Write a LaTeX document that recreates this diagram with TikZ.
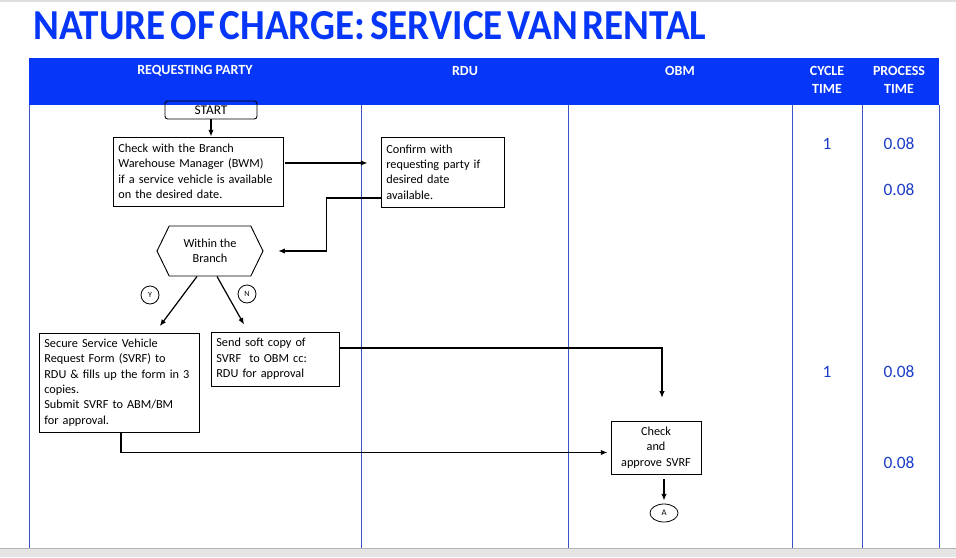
\documentclass[tikz,border=0pt]{standalone}
\usepackage{fontspec}
\setmainfont{Carlito}
\usetikzlibrary{shapes.geometric,shapes.symbols,arrows.meta}
\definecolor{hdrblue}{HTML}{0636F8}
\definecolor{numblue}{HTML}{1A3CC8}
\definecolor{laneline}{HTML}{3A55C8}
\tikzset{
  box/.style={draw, line width=0.7pt, align=left, inner xsep=4pt,
    font=\fontsize{9.2}{11.6}\selectfont},
  flow/.style={-{Latex[length=5pt,width=4pt]}, line width=0.9pt},
  hdr/.style={text=white, font=\fontsize{10.5}{13.5}\selectfont\bfseries, align=center},
  num/.style={text=numblue, font=\fontsize{13}{15}\selectfont},
  tag/.style={draw, circle, line width=0.6pt, inner sep=0pt, minimum size=13.5pt,
    font=\fontsize{6}{7}\selectfont}
}
\begin{document}
\begin{tikzpicture}[x=0.75pt, y=-0.75pt]
\useasboundingbox (0,0) rectangle (956,557);
\fill[gray!25] (0,0) rectangle (956,2);
\node[anchor=west, inner sep=0pt, text=hdrblue] (title) at (33,26)
{\resizebox{504.75pt}{21pt}{\bfseries\spaceskip=0.12em NATURE OF CHARGE: SERVICE VAN RENTAL}};
% lanes
\fill[hdrblue] (29,58) rectangle (939,105);
\draw[laneline, line width=0.6pt] (29,105) -- (29,548);
\draw[laneline, line width=0.6pt] (361,105) -- (361,548);
\draw[laneline, line width=0.6pt] (568,105) -- (568,548);
\draw[laneline, line width=0.6pt] (792,105) -- (792,548);
\draw[laneline, line width=0.6pt] (862,105) -- (862,548);
\draw[laneline, line width=0.6pt] (939,105) -- (939,548);
\node[hdr] (h1) at (195,71) {REQUESTING PARTY};
\node[hdr] (h2) at (465,71) {RDU};
\node[hdr] (h3) at (680,71) {OBM};
\node[hdr] (h4) at (827,80) {CYCLE\\TIME};
\node[hdr] (h5) at (899,80) {PROCESS\\TIME};
% steps
\node[box, rounded corners=2pt, align=center, minimum width=69pt, minimum height=13.5pt,
  inner ysep=0pt, font=\fontsize{10}{11}\selectfont] (start) at (211,110) {START};
\node[box, text width=119.5pt, minimum height=51.75pt] (check) at (198,171.5)
{Check with the Branch\\Warehouse Manager (BWM)\\if a service vehicle is available\\on the desired date.};
\node[box, text width=84.25pt, minimum height=52.5pt] (confirm) at (442.5,172)
{Confirm with\\requesting party if\\desired date\\available.};
\node[draw, line width=0.7pt, signal, signal to=west and east, signal pointer angle=128,
  minimum width=79.5pt, minimum height=37.5pt, align=center,
  font=\fontsize{9.2}{11.6}\selectfont] (branch) at (210,251) {Within the\\Branch};
\node[tag] (yes) at (150,295) {Y};
\node[tag] (no) at (247,294) {N};
\node[box, text width=112pt, minimum height=74.25pt] (secure) at (119,382.5)
{Secure Service Vehicle\\Request Form (SVRF) to\\RDU \& fills up the form in 3\\copies.\\Submit SVRF to ABM/BM\\for approval.};
\node[box, text width=88pt, minimum height=40.5pt] (send) at (275,359)
{Send soft copy of\\SVRF~ to OBM cc:\\RDU for approval};
\node[box, align=center, text width=59.5pt, minimum height=39.75pt] (approve) at (656,447.5)
{Check\\and\\approve SVRF};
\node[draw, ellipse, line width=0.6pt, minimum width=21pt, minimum height=13.5pt, inner sep=0pt,
  font=\fontsize{6.5}{7}\selectfont] (endA) at (664,513) {A};
% times
\node[num] (c1) at (827,144) {1};
\node[num] (p1) at (899,144) {0.08};
\node[num] (p2) at (899,190) {0.08};
\node[num] (c2) at (827,372) {1};
\node[num] (p3) at (899,372) {0.08};
\node[num] (p4) at (899,463) {0.08};
% arrows
\draw[flow] (start.south) -- (start.south |- check.north);
\draw[flow, shorten <=1.5pt, shorten >=9.75pt] ([yshift=6.4pt]check.east) -- ([yshift=6.4pt]check.east -| confirm.west);
\draw[flow, shorten >=11pt] ([yshift=-19.5pt]confirm.west) -- ++(-40.5pt,0) |- (branch.east);
\draw[flow, shorten >=6pt] ([xshift=-9.75pt]branch.south) -- ([xshift=27pt]secure.north);
\draw[flow, shorten >=6pt] ([xshift=5.25pt]branch.south) -- ([xshift=-20.25pt]send.north);
\draw[flow, shorten >=17pt] ([yshift=8.25pt]send.east) -| ([xshift=4.5pt]approve.north);
\draw[flow, shorten >=2.25pt] ([xshift=1.5pt]secure.south) |- ([yshift=-3.75pt]approve.west);
\draw[flow, shorten <=3.75pt, shorten >=2.25pt] (endA.north |- approve.south) -- (endA.north);
\fill[gray!20] (0,548) rectangle (956,557);
\draw[gray!60] (0,548) -- (956,548);
\end{tikzpicture}
\end{document}
